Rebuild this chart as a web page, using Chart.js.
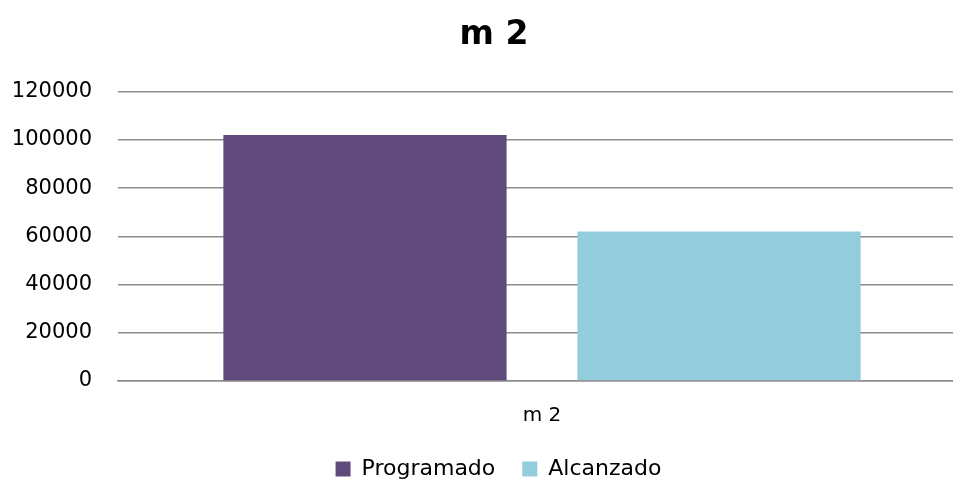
<!DOCTYPE html>
<html>
<head>
<meta charset="utf-8">
<script src="https://cdn.jsdelivr.net/npm/chart.js@4"></script>
<style>
  html, body { margin: 0; padding: 0; background: #fff; overflow: hidden; }
  #wrap { width: 966px; height: 483px; }
</style>
</head>
<body>
<div id="wrap"><canvas id="chart" width="966" height="483"></canvas></div>
<script>
// m 2 chart: Programado vs Alcanzado

const categories = ["m 2"];
const programado = [102000];
const alcanzado = [62000];
const yTicks = [0, 20000, 40000, 60000, 80000, 100000, 120000];

const COLORS = {
  purple: "#604a7b",
  blue: "#93cddd",
  grid: "#8c8c8c"
};

const FONT = "'DejaVu Sans', sans-serif";

// title and legend are centred on the page, not on the plot area
const recentre = {
  id: "recentre",
  afterLayout(chart) {
    chart.titleBlock.left = 0;
    chart.titleBlock.right = 988;
    chart.legend.left = 0;
    chart.legend.right = 997;
    chart.legend.top += 7;
  }
};

new Chart(document.getElementById("chart"), {
  type: "bar",
  data: {
    labels: categories,
    datasets: [
      { label: "Programado", data: programado, backgroundColor: COLORS.purple, categoryPercentage: 0.835, barPercentage: 0.8 },
      { label: "Alcanzado", data: alcanzado, backgroundColor: COLORS.blue, categoryPercentage: 0.835, barPercentage: 0.8 }
    ]
  },
  plugins: [recentre],
  options: {
    responsive: false,
    animation: false,
    layout: { padding: 0 },
    plugins: {
      title: {
        display: true,
        text: "m 2",
        color: "#000",
        font: { family: FONT, size: 33, weight: "bold" },
        padding: { top: 16, bottom: 36 }
      },
      legend: {
        position: "bottom",
        labels: {
          color: "#000",
          font: { family: FONT, size: 22 },
          boxWidth: 15,
          boxHeight: 15,
          padding: 27,
          useBorderRadius: false
        }
      },
      tooltip: { enabled: false }
    },
    scales: {
      x: {
        grid: { display: false, drawTicks: false },
        border: { display: true, color: COLORS.grid, width: 1.5 },
        ticks: { color: "#000", font: { family: FONT, size: 20 }, padding: 23 },
        afterFit: (s) => { s.height = 43; }
      },
      y: {
        min: 0,
        max: 120000,
        afterBuildTicks: (s) => { s.ticks = yTicks.map((v) => ({ value: v })); },
        grid: { color: COLORS.grid, lineWidth: 1.5, drawTicks: false },
        border: { display: false },
        ticks: { color: "#000", font: { family: FONT, size: 21 }, padding: 26, callback: (v) => String(v) },
        afterFit: (s) => { s.width = 118; }
      }
    }
  }
});
</script>
</body>
</html>
